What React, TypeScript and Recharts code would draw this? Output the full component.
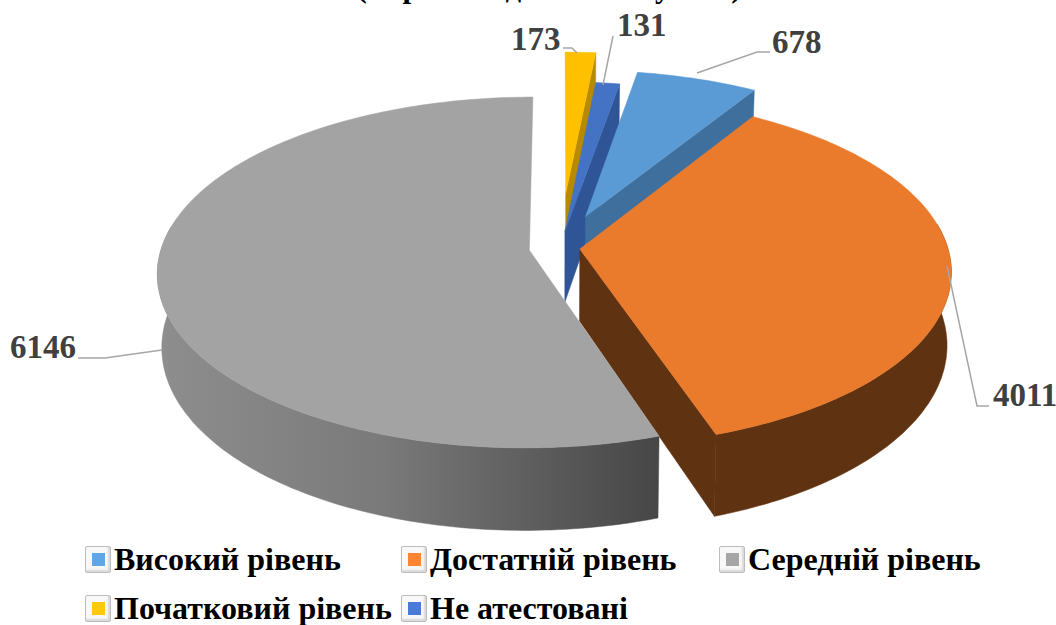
import { Legend, Pie, PieChart } from "recharts";

// order runs clockwise from 12 o'clock, which is also back-to-front for painting
const categories = ["Початковий рівень", "Не атестовані", "Високий рівень", "Достатній рівень", "Середній рівень"];
const values = [173, 131, 678, 4011, 6146];
const topColors = ["#ffc000", "#4472c4", "#5b9bd5", "#ea7b2d", "#a3a3a3"];
const wallColors = ["#b88a00", "#2f5597", "#3f6f9c", "#5f3211", "url(#grayWall)"];
const explode = [0.33, 0.1, 0.2, 0.054, 0.084];

const legendRows = [
  ["Високий рівень", "Достатній рівень", "Середній рівень"],
  ["Початковий рівень", "Не атестовані"],
];
const legendIconColors: Record<string, string> = {
  "Високий рівень": "#5ea6e6",
  "Достатній рівень": "#ff8533",
  "Середній рівень": "#a6a6a6",
  "Початковий рівень": "#ffc90a",
  "Не атестовані": "#4a7bd6",
};

const labelAnchors = [
  [511, 50],
  [617, 36],
  [772, 53],
  [993, 406],
  [10, 358],
];
const leaderLines = [
  "563,48 572,48 577,53",
  "603,85 613,36",
  "697,73 757,52 770,52",
  "947,266 977,406 989,406",
  "162,350 105,358 78,358",
];

const FONT = "'Liberation Serif', 'Times New Roman', serif";
const CX = 560;
const CY = 248;
const RADIUS = 368;
const SQUASH = 172 / 368;
const PERSPECTIVE = 0.126;
const DEPTH = 72;
const WALL_SHRINK = 0.989;

const RAD = Math.PI / 180;

// unit disc -> screen, with a simple perspective so the front of the pie looks bigger
function project(cx: number, cy: number, r: number, u: number, v: number) {
  const w = 1 - PERSPECTIVE * v;
  return { x: cx + (r * u) / w, y: cy + (r * SQUASH * v) / w, w };
}

function lower(cx: number, p: { x: number; y: number; w: number }) {
  return { x: cx + (p.x - cx) * WALL_SHRINK, y: p.y + DEPTH / p.w };
}

function toPath(pts: { x: number; y: number }[]) {
  return "M" + pts.map((p) => `${p.x.toFixed(1)},${p.y.toFixed(1)}`).join("L") + "Z";
}

function Slice3D(props: any) {
  const { cx, cy, outerRadius, startAngle, endAngle, index } = props;
  const mid = ((startAngle + endAngle) / 2) * RAD;
  const e = explode[index];
  const u0 = e * Math.cos(mid);
  const v0 = -e * Math.sin(mid);

  const apex = project(cx, cy, outerRadius, u0, v0);
  const steps = Math.max(2, Math.ceil(Math.abs(endAngle - startAngle)));
  const arc = [];
  const frontArc = [];
  for (let i = 0; i <= steps; i++) {
    const a = (startAngle + ((endAngle - startAngle) * i) / steps) * RAD;
    const p = project(cx, cy, outerRadius, u0 + Math.cos(a), v0 - Math.sin(a));
    arc.push(p);
    // only the part of the rim that faces the viewer gets a wall
    if (-Math.sin(a) > -0.15) frontArc.push(p);
  }
  const last = arc[arc.length - 1];
  const wall = wallColors[index];
  const top = topColors[index];
  // the closing cut edge shows only when it turns towards the viewer
  const showEndWall = Math.sin((90 - endAngle) * RAD) > 0.01;

  return (
    <g>
      {showEndWall && (
        <path d={toPath([apex, last, lower(cx, last), lower(cx, apex)])} fill={wall} stroke={wall} strokeWidth={0.5} />
      )}
      {frontArc.length > 1 && (
        <path
          d={toPath([...frontArc, ...frontArc.map((p) => lower(cx, p)).reverse()])}
          fill={wall}
          stroke={wall}
          strokeWidth={0.5}
        />
      )}
      <path d={toPath([apex, ...arc])} fill={top} stroke={top} strokeWidth={0.5} />
    </g>
  );
}

function SliceLabel(props: any) {
  const { index } = props;
  const [x, y] = labelAnchors[index];
  return (
    <g>
      <polyline points={leaderLines[index]} fill="none" stroke="#a6a6a6" strokeWidth={1.5} />
      <text x={x} y={y} fontFamily={FONT} fontSize={33} fontWeight="bold" fill="#404040">
        {values[index]}
      </text>
    </g>
  );
}

function LegendBox() {
  return (
    <div style={{ fontFamily: FONT, fontSize: 32, fontWeight: "bold", color: "#000" }}>
      {legendRows.map((row, r) => (
        <div key={r} style={{ display: "flex", height: 49, alignItems: "center" }}>
          {row.map((name, i) => (
            <div key={name} style={{ display: "flex", alignItems: "center", width: i === 0 ? 316 : 318, whiteSpace: "nowrap" }}>
              <span
                style={{
                  width: 26,
                  height: 27,
                  boxSizing: "border-box",
                  marginRight: 3,
                  background: "#f8f8f8",
                  border: "1px solid #bdbdbd",
                  borderRadius: 2,
                  boxShadow: "inset -2px -2px 2px #d8d8d8",
                  display: "flex",
                  alignItems: "center",
                  justifyContent: "center",
                  flex: "none",
                }}
              >
                <span style={{ width: 13, height: 13, background: legendIconColors[name] }} />
              </span>
              {name}
            </div>
          ))}
        </div>
      ))}
    </div>
  );
}

export default function App() {
  const data = categories.map((name, i) => ({ name, value: values[i] }));

  return (
    <div style={{ position: "absolute", left: 0, top: 0, width: 1056, height: 625, background: "#fff", overflow: "hidden" }}>
      <PieChart width={1056} height={625} margin={{ top: 0, right: 0, bottom: 0, left: 0 }}>
        <defs>
          <linearGradient id="grayWall" gradientUnits="userSpaceOnUse" x1="155" y1="0" x2="655" y2="0">
            <stop offset="0%" stopColor="#8e8e8e" />
            <stop offset="45%" stopColor="#7a7a7a" />
            <stop offset="100%" stopColor="#474747" />
          </linearGradient>
        </defs>
        <text x={549} y={-3} textAnchor="middle" fontFamily={FONT} fontSize={31} fontWeight="bold" fill="#000">
          (за рівнем досягнень учнів)
        </text>
        <Pie
          data={data}
          dataKey="value"
          nameKey="name"
          cx={CX}
          cy={CY}
          outerRadius={RADIUS}
          startAngle={90}
          endAngle={-270}
          paddingAngle={0}
          stroke="none"
          shape={Slice3D}
          label={SliceLabel}
          labelLine={false}
          isAnimationActive={false}
        />
        <Legend content={LegendBox} wrapperStyle={{ left: 85, top: 535, width: 965 }} />
      </PieChart>
    </div>
  );
}
